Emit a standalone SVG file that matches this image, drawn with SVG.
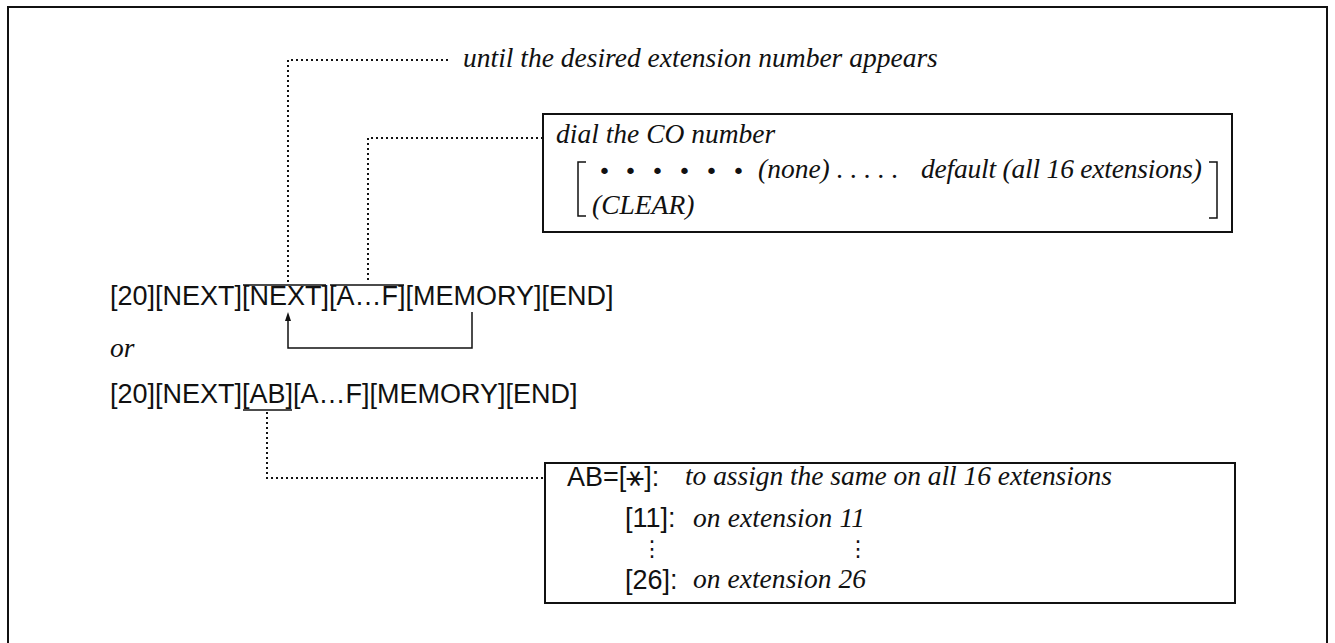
<svg xmlns="http://www.w3.org/2000/svg" width="1335" height="643" viewBox="0 0 1335 643">
<defs>
<style>
.frame{fill:none;stroke:#111;stroke-width:2}
.box{fill:#fff;stroke:#111;stroke-width:2}
.dot{fill:none;stroke:#111;stroke-width:2;stroke-dasharray:2 3}
.ln{fill:none;stroke:#111;stroke-width:1.5}
.sans{font-family:"Liberation Sans",Arial,sans-serif;font-size:27px;fill:#111}
.it{font-family:"Liberation Serif","Times New Roman",serif;font-style:italic;font-size:27.5px;fill:#111}
.sym{font-family:"DejaVu Sans",sans-serif;font-size:30px;fill:#111}
.vd{font-family:"DejaVu Sans",sans-serif;font-size:22px;fill:#111}
.bul{font-family:"DejaVu Sans",sans-serif;font-size:22px;fill:#111}
</style>
</defs>
<rect width="1335" height="643" fill="#fff"/>
<path class="frame" d="M8,650 V7 H1327 V650"/>

<g id="connectors">
<path class="dot" d="M448,60 H288 V282"/>
<path class="dot" d="M543,138 H368 V282"/>
<path class="dot" d="M267,412 V478 H545"/>
<path class="ln" d="M243,285 H326 M330,285 H404"/>
<path class="ln" d="M288,318 V348 H472 V312"/>
<path d="M288,312 L291,321 L285,321 Z" fill="#111"/>
<path class="ln" d="M243,410 H292"/>
</g>

<g id="until-note">
<text class="it" font-size="28" x="463" y="67">until the desired extension number appears</text>
</g>

<g id="co-box">
<rect class="box" x="543" y="114" width="689" height="118"/>
<text class="it" font-size="28" x="556" y="143">dial the CO number</text>
<path class="ln" d="M586,162 H578 V216 H586"/>
<path class="ln" d="M1209,162 H1217 V218 H1209"/>
<text class="bul" x="598 624 651 678 705 732" y="179">••••••</text>
<text class="it" x="758" y="178">(none) . . . . .</text>
<text class="it" x="921" y="178" textLength="281">default (all 16 extensions)</text>
<text class="it" font-size="29.5" x="592" y="214">(CLEAR)</text>
</g>

<g id="sequence-1">
<text class="sans" x="110" y="305">[20][NEXT][NEXT][A…F][MEMORY][END]</text>
</g>
<g id="or-label">
<text class="it" x="110" y="357">or</text>
</g>
<g id="sequence-2">
<text class="sans" x="110" y="403">[20][NEXT][AB][A…F][MEMORY][END]</text>
</g>

<g id="ab-box">
<rect class="box" x="545" y="463" width="690" height="140"/>
<text class="sans" x="567" y="486">AB=[<tspan class="sym">⚹</tspan>]:</text>
<text class="it" x="685" y="485" textLength="427">to assign the same on all 16 extensions</text>
<text class="sans" x="625" y="527">[11]:</text>
<text class="it" x="693" y="527" textLength="172">on extension 11</text>
<text class="vd" x="641" y="556">⋮</text>
<text class="vd" x="847" y="556">⋮</text>
<text class="sans" x="625" y="589">[26]:</text>
<text class="it" x="693" y="588" textLength="173">on extension 26</text>
</g>
</svg>
